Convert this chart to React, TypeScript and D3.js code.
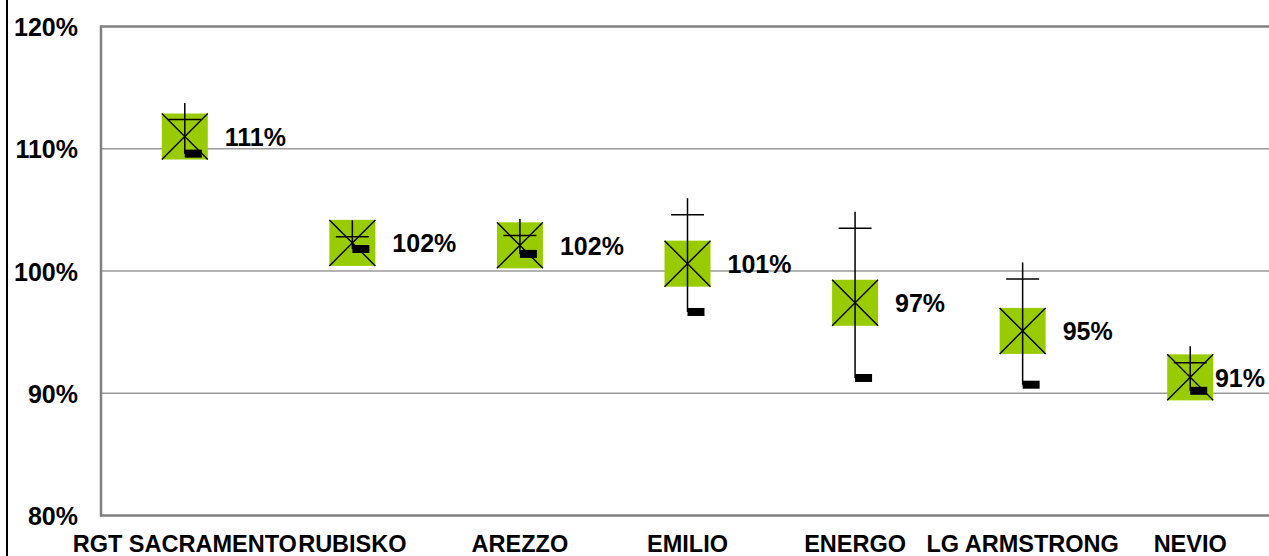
import React from "react";
import * as d3 from "d3";

const categories = ["RGT SACRAMENTO", "RUBISKO", "AREZZO", "EMILIO", "ENERGO", "LG ARMSTRONG", "NEVIO"];
const avgValues = [111.0, 102.3, 102.1, 100.6, 97.4, 95.1, 91.3];
const maxValues = [112.4, 102.8, 102.9, 104.6, 103.5, 99.35, 92.5];
const minValues = [109.6, 101.8, 101.4, 96.65, 91.25, 90.7, 90.2];
const valueLabels = ["111%", "102%", "102%", "101%", "97%", "95%", "91%"];
const yTicks = [80, 90, 100, 110, 120];

const W = 1269;
const H = 556;
const FONT = "'Liberation Sans', Arial, sans-serif";
const LABEL_SIZE = 25;

function labelWidth(s: string) {
  let w = 0;
  for (const ch of s) w += ch === "%" ? 0.889 : 0.556;
  return w * LABEL_SIZE;
}

export default function App() {
  const x = d3.scaleBand<string>().domain(categories).range([101, 1274]).padding(0);
  const y = d3.scaleLinear().domain([80, 120]).range([515.5, 26.5]);
  const cx = (c: string) => (x(c) as number) + x.bandwidth() / 2;
  const box = 46;
  const plus = 33;

  return (
    <svg
      width={W}
      height={H}
      style={{ position: "absolute", left: 0, top: 0, background: "#fff" }}
      fontFamily={FONT}
    >
      <rect x={0} y={0} width={W} height={H} fill="#fff" />
      <line x1={7} x2={7} y1={0} y2={H} stroke="#000" strokeWidth={2} />
      {yTicks.map((t) => {
        const edge = t === 80 || t === 120;
        return (
          <line
            key={"g" + t}
            x1={101}
            x2={W}
            y1={y(t)}
            y2={y(t)}
            stroke={edge ? "#808080" : "#9a9a9a"}
            strokeWidth={edge ? 2.5 : 1.5}
          />
        );
      })}
      <line x1={101} x2={101} y1={y(120) - 1.2} y2={y(80) + 1.2} stroke="#808080" strokeWidth={2.5} />
      {yTicks.map((t) => (
        <text
          key={"t" + t}
          x={78}
          y={y(t) + 9.5}
          textAnchor="end"
          fontSize={LABEL_SIZE}
          fontWeight="bold"
          fill="#000"
        >
          {t + "%"}
        </text>
      ))}
      {categories.map((c) => (
        <text key={"c" + c} x={cx(c)} y={552} textAnchor="middle" fontSize={23.5} fontWeight="bold" fill="#000">
          {c}
        </text>
      ))}
      {categories.map((c, i) => {
        const px = cx(c);
        const ya = y(avgValues[i]);
        const yM = y(maxValues[i]);
        const ym = y(minValues[i]);
        const lx = Math.min(px + 40, W - 4 - labelWidth(valueLabels[i]));
        return (
          <g key={"m" + c}>
            <rect x={px - box / 2} y={ya - box / 2} width={box} height={box} fill="#99CC00" />
            <line x1={px - box / 2} y1={ya - box / 2} x2={px + box / 2} y2={ya + box / 2} stroke="#000" strokeWidth={1.4} />
            <line x1={px - box / 2} y1={ya + box / 2} x2={px + box / 2} y2={ya - box / 2} stroke="#000" strokeWidth={1.4} />
            <line x1={px} x2={px} y1={yM - plus / 2} y2={ym} stroke="#000" strokeWidth={1.5} />
            <line x1={px - plus / 2} x2={px + plus / 2} y1={yM} y2={yM} stroke="#000" strokeWidth={1.5} />
            <rect x={px} y={ym - 4} width={17} height={8} fill="#000" />
            <text x={lx} y={ya + 9.5} fontSize={LABEL_SIZE} fontWeight="bold" fill="#000">
              {valueLabels[i]}
            </text>
          </g>
        );
      })}
    </svg>
  );
}
